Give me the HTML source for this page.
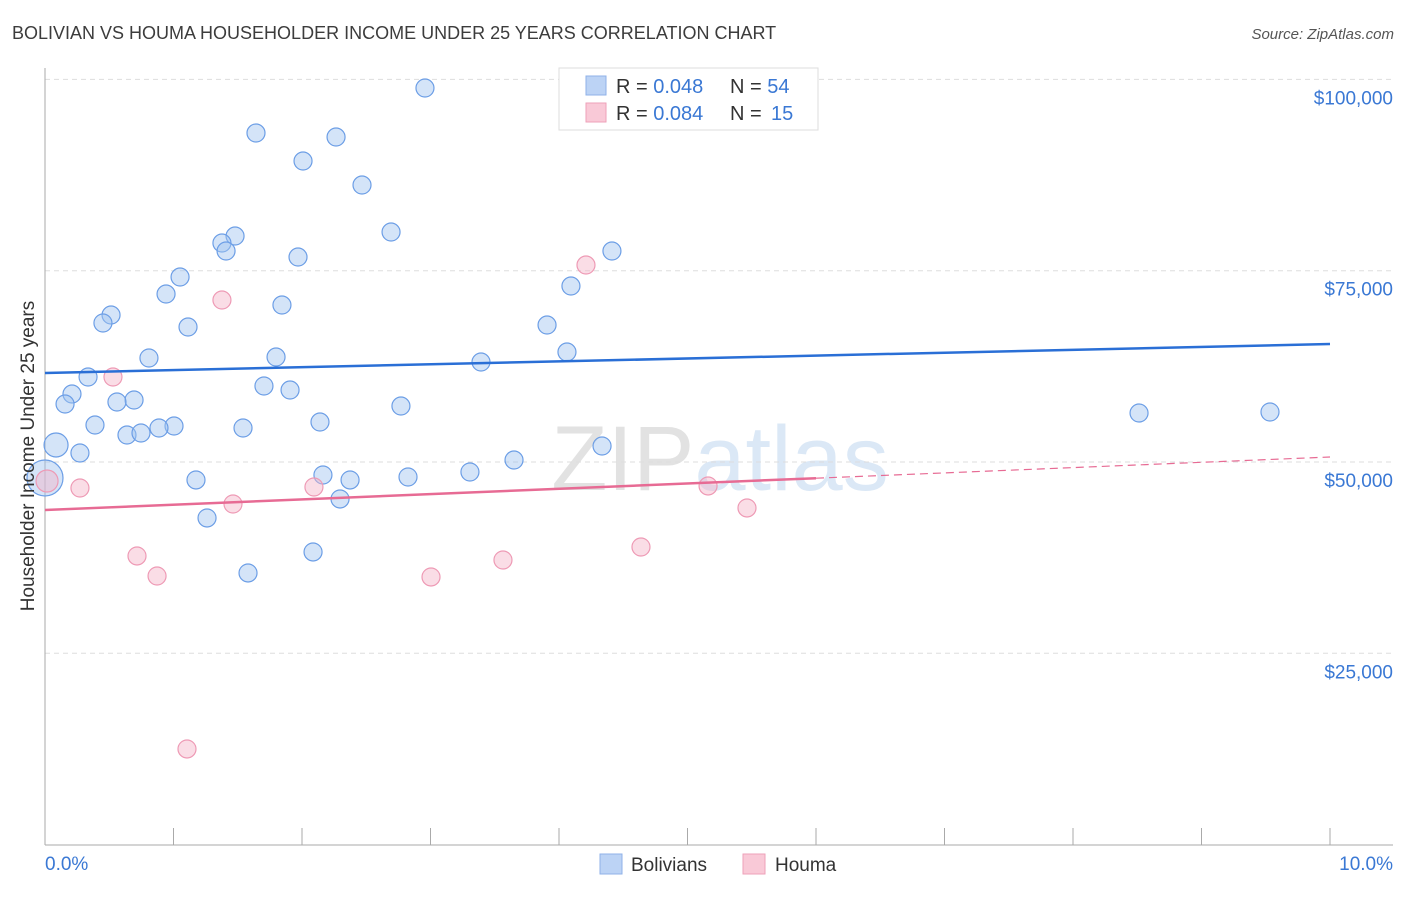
<!DOCTYPE html>
<html><head><meta charset="utf-8"><style>
body{margin:0;background:#fff;font-family:"Liberation Sans",sans-serif}
svg text{font-family:"Liberation Sans",sans-serif}
</style></head><body>
<svg id="chart" width="1406" height="892">
<text x="12" y="39" font-size="18" fill="#3c3c3c">BOLIVIAN VS HOUMA HOUSEHOLDER INCOME UNDER 25 YEARS CORRELATION CHART</text>
<text x="1394" y="39" font-size="15" fill="#555" font-style="italic" text-anchor="end">Source: ZipAtlas.com</text>
<text x="720" y="490" font-size="92" fill="#e6e6e6" text-anchor="middle" font-family="Liberation Serif"><tspan fill="#e2e2e2">ZIP</tspan><tspan fill="#dbe8f6" font-family="Liberation Sans">atlas</tspan></text>
<g id="grid"></g>
<g id="axes"></g>
<g id="marks"></g>
<text transform="translate(34,456) rotate(-90)" font-size="19" fill="#333" text-anchor="middle">Householder Income Under 25 years</text>
<g>
<rect x="559" y="68" width="259" height="62" fill="#fff" stroke="#ddd"/>
<rect x="586" y="76" width="20" height="19" fill="#bcd3f5" stroke="#8fb2e8"/>
<rect x="586" y="103" width="20" height="19" fill="#f9c9d7" stroke="#eea1b9"/>
<text x="616" y="93" font-size="20" fill="#333">R = <tspan fill="#3a78d4">0.048</tspan><tspan x="730">N = </tspan><tspan fill="#3a78d4">54</tspan></text>
<text x="616" y="120" font-size="20" fill="#333">R = <tspan fill="#3a78d4">0.084</tspan><tspan x="730">N = </tspan><tspan fill="#3a78d4" x="771">15</tspan></text>
</g>
<g>
<rect x="600" y="854" width="22" height="20" fill="#bcd3f5" stroke="#8fb2e8"/>
<text x="631" y="871" font-size="19" fill="#333">Bolivians</text>
<rect x="743" y="854" width="22" height="20" fill="#f9c9d7" stroke="#eea1b9"/>
<text x="775" y="871" font-size="19" fill="#333">Houma</text>
</g>
</svg>
<script>
const yTicks=[25000,50000,75000,100000];
const yTickLabels=["$25,000","$50,000","$75,000","$100,000"];
const xTickLabels=["0.0%","10.0%"];
const bolX=[2.957,1.642,2.265,2.008,2.467,2.693,1.479,1.377,1.409,1.969,4.412,1.051,4.093,0.942,1.844,0.514,0.451,1.113,3.907,0.809,1.798,3.393,4.062,0.335,1.704,1.907,0.210,0.693,0.560,0.156,2.770,2.140,0.389,1.004,0.887,1.541,0.638,0.747,0.086,4.335,0.272,3.650,3.307,2.163,2.825,1.175,2.374,0.0,2.296,1.261,2.086,1.580,8.514,9.533];
const bolY=[98874,92994,92471,89335,86199,80056,79534,78619,77574,76790,77574,74176,73000,71954,70517,69210,68165,67642,67903,63591,63721,63068,64375,61108,59932,59409,58886,58102,57841,57579,57318,55227,54835,54704,54443,54443,53528,53790,52222,52091,51176,50261,48693,48301,48040,47648,47648,47909,45165,42682,38239,35495,56403,56534];
const bolBig={38:12,47:18};
const houX=[4.210,1.377,0.529,0.016,0.272,2.093,5.160,1.463,5.463,0.716,0.872,3.004,3.564,4.638,1.105];
const houY=[75744,71170,61108,47517,46602,46733,46864,44511,43989,37716,35102,34972,37193,38892,12495];
const houBig={3:11};
const bolTrend=[61631,65420];
const houTrend=[43727,50653];
const NS="http://www.w3.org/2000/svg";
const X=v=>45+v*128.5;
const Y=v=>462-(v-50000)*191.3/25000;
function mk(tag,attrs,parent){const e=document.createElementNS(NS,tag);for(const k in attrs)e.setAttribute(k,attrs[k]);parent.appendChild(e);return e;}
const grid=document.getElementById('grid'),axes=document.getElementById('axes'),marks=document.getElementById('marks');
yTicks.forEach((t,i)=>{
 const l=mk('line',{x1:45,x2:1393,y1:Y(t),y2:Y(t),stroke:'#ddd','stroke-dasharray':'5,4'},grid);
 
 
 const tx=mk('text',{x:1393,y:Y(t)+25,'font-size':19,fill:'#3a78d4','text-anchor':'end'},axes);
 tx.textContent=yTickLabels[i];
 
 
});
const ya=mk('line',{x1:45,x2:45,y1:68,y2:845,stroke:'#aaa'},axes);


const xa=mk('line',{x1:45,x2:1393,y1:845,y2:845,stroke:'#aaa'},axes);


for(let i=0;i<=10;i++){const tk=mk('line',{x1:X(i),x2:X(i),y1:828,y2:845,stroke:'#aaa'},axes);
 
 }
[[45,'start'],[1393,'end']].forEach((p,i)=>{const t=mk('text',{x:p[0],y:870,'font-size':19,fill:'#3a78d4','text-anchor':p[1]},axes);t.textContent=xTickLabels[i];
 
 });
bolX.forEach((x,i)=>{const c=mk('circle',{cx:X(x),cy:Y(bolY[i]),r:bolBig[i]||9,fill:'rgba(160,195,240,0.45)',stroke:'#6c9ee6','stroke-width':1.2},marks);
 
 });
houX.forEach((x,i)=>{const c=mk('circle',{cx:X(x),cy:Y(houY[i]),r:houBig[i]||9,fill:'rgba(245,180,200,0.45)',stroke:'#ee9ab5','stroke-width':1.2},marks);
 
 });
const bt=mk('line',{x1:X(0),y1:Y(bolTrend[0]),x2:X(10),y2:Y(bolTrend[1]),stroke:'#2a6fd6','stroke-width':2.5},marks);


const hm=houTrend[0]+(houTrend[1]-houTrend[0])*0.6;
const ht=mk('line',{x1:X(0),y1:Y(houTrend[0]),x2:X(6),y2:Y(hm),stroke:'#e76b94','stroke-width':2.5},marks);


const hd=mk('line',{x1:X(6),y1:Y(hm),x2:X(10),y2:Y(houTrend[1]),stroke:'#e76b94','stroke-width':1.2,'stroke-dasharray':'8,5'},marks);


</script>
</body></html>
